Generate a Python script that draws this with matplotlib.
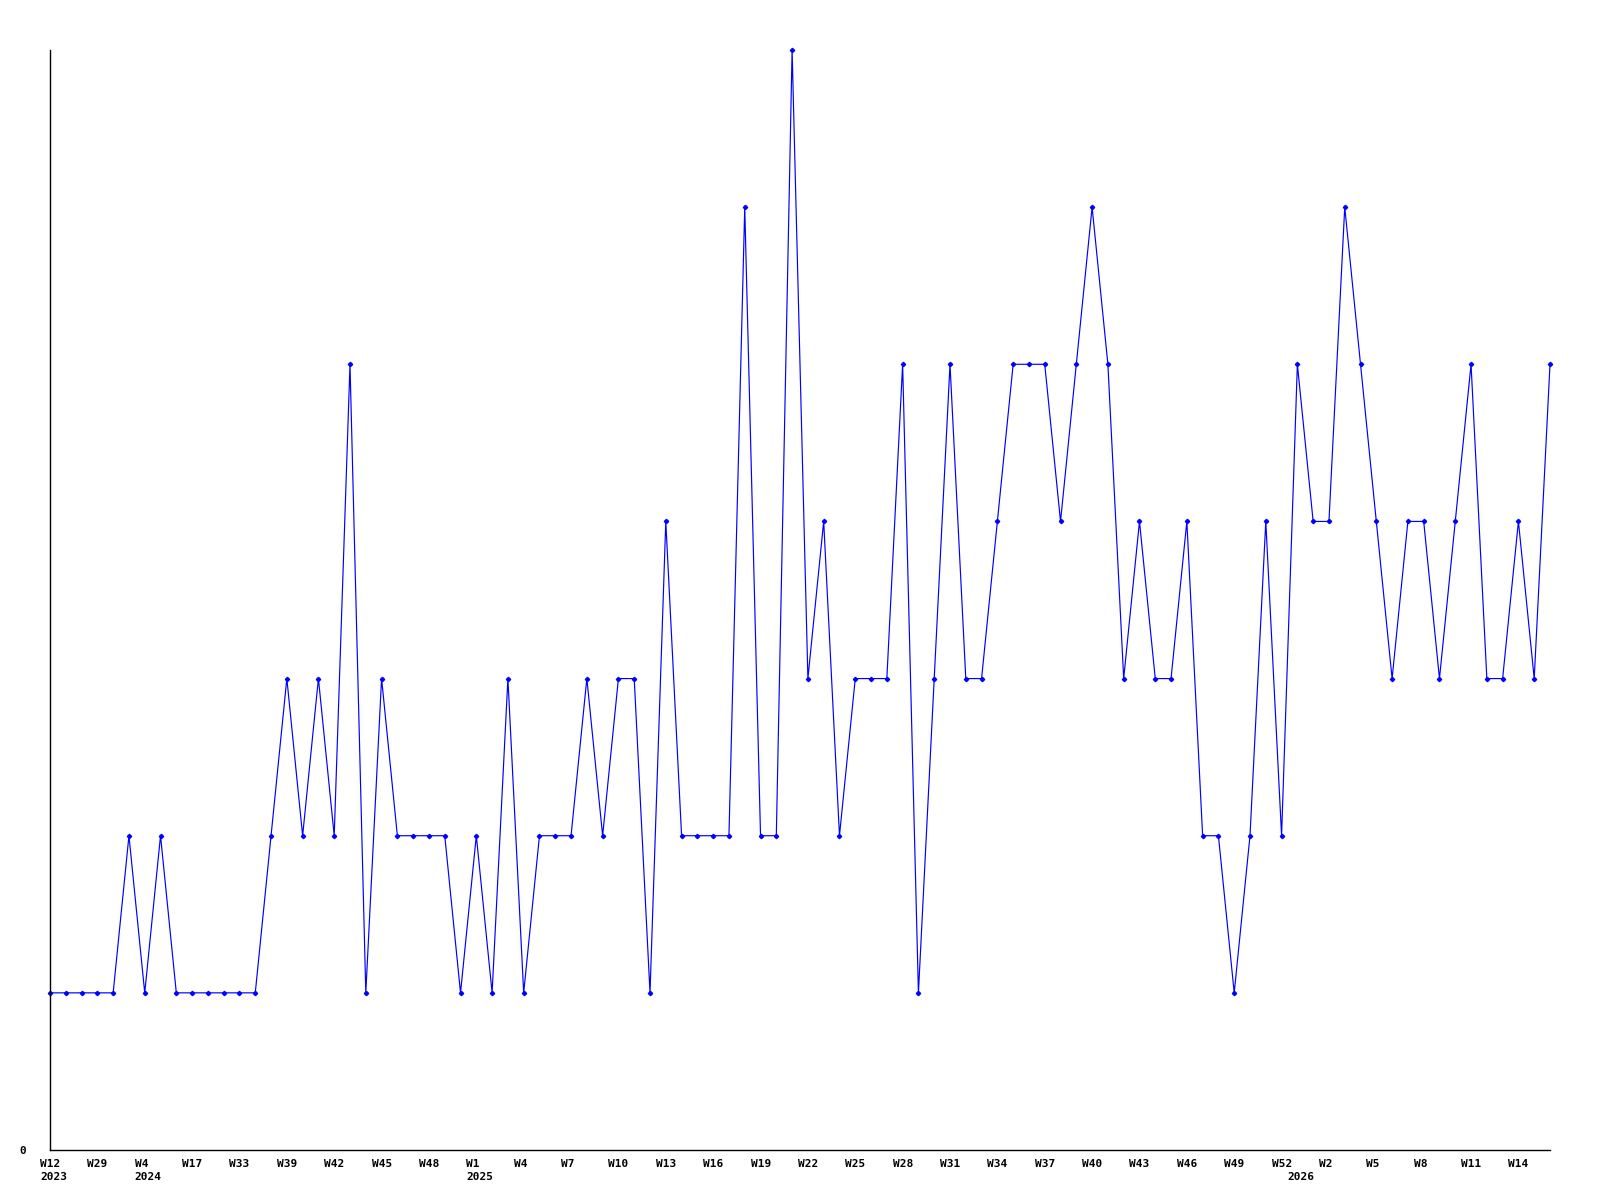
import matplotlib
matplotlib.use("Agg")
import matplotlib.pyplot as plt
import matplotlib.transforms as mtransforms

# weekly counts, one per point (oldest first)
values = [1, 1, 1, 1, 1, 2, 1, 2, 1, 1,
          1, 1, 1, 1, 2, 3, 2, 3, 2, 5,
          1, 3, 2, 2, 2, 2, 1, 2, 1, 3,
          1, 2, 2, 2, 3, 2, 3, 3, 1, 4,
          2, 2, 2, 2, 6, 2, 2, 7, 3, 4,
          2, 3, 3, 3, 5, 1, 3, 5, 3, 3,
          4, 5, 5, 5, 4, 5, 6, 5, 3, 4,
          3, 3, 4, 2, 2, 1, 2, 4, 2, 5,
          4, 4, 6, 5, 4, 3, 4, 4, 3, 4,
          5, 3, 3, 4, 3, 5]

# a week label on every third point
week_labels = ["W12", "W29", "W4", "W17", "W33", "W39", "W42", "W45", "W48",
               "W1", "W4", "W7", "W10", "W13", "W16", "W19", "W22", "W25",
               "W28", "W31", "W34", "W37", "W40", "W43", "W46", "W49", "W52",
               "W2", "W5", "W8", "W11", "W14"]
label_step = 3

# year labels and the point index they sit under
years = ["2023", "2024", "2025", "2026"]
year_pos = [0, 6, 27, 79]

font = {"family": "DejaVu Sans Mono", "weight": "bold", "size": 8}

fig = plt.figure(figsize=(16, 12), dpi=100)
ax = fig.add_axes([50 / 1600, 50 / 1200, 1500 / 1600, 1100 / 1200])

x = list(range(len(values)))
ax.plot(x, values, color="#0000ff", linewidth=0.85, marker="D", markersize=2.2,
        clip_on=False)

ax.set_xlim(0, len(values) - 1)
ax.set_ylim(0, max(values))

for side in ["top", "right"]:
    ax.spines[side].set_visible(False)
for side in ["left", "bottom"]:
    ax.spines[side].set_color("black")
    ax.spines[side].set_linewidth(1.0)

# x ticks: labels left aligned, shifted 10px left of the point
ax.set_xticks(x[::label_step])
ax.set_xticklabels(week_labels, ha="left", fontdict=font)
ax.tick_params(axis="x", length=0, pad=6.2)
shift = mtransforms.ScaledTranslation(-10 / 100, 0, fig.dpi_scale_trans)
for lab in ax.get_xticklabels():
    lab.set_transform(lab.get_transform() + shift)

ax.set_yticks([0])
ax.set_yticklabels(["0"], fontdict=font)
ax.tick_params(axis="y", length=0, pad=17)

# year row under the week labels
ytrans = ax.get_xaxis_transform() + mtransforms.ScaledTranslation(
    -10 / 100, -27 / 100, fig.dpi_scale_trans)
for yr, pos in zip(years, year_pos):
    ax.text(pos, 0, yr, transform=ytrans, ha="left", va="center", **font)

fig.savefig("out.png", dpi=100)
